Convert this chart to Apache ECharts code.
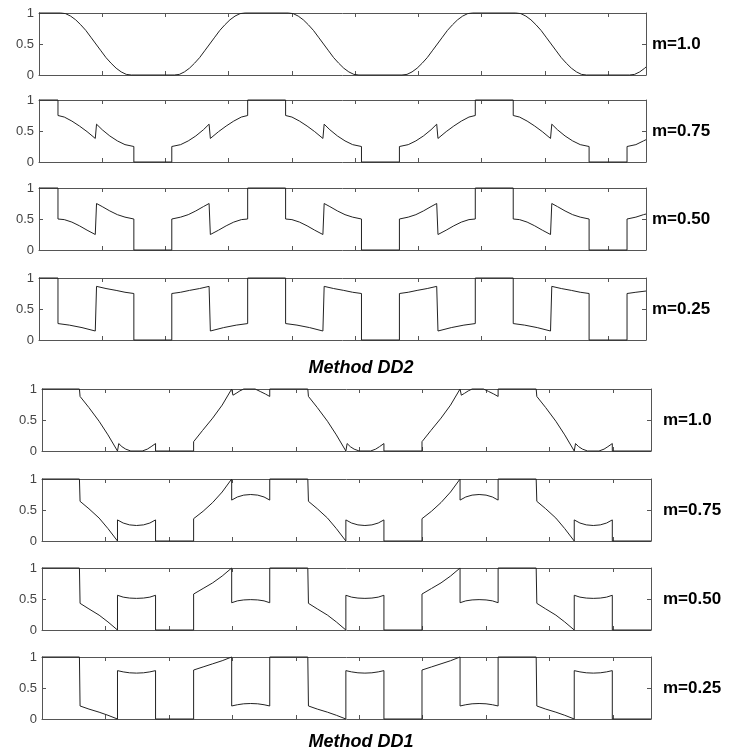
<!DOCTYPE html>
<html><head><meta charset="utf-8">
<script src="https://cdn.jsdelivr.net/npm/echarts@6/dist/echarts.min.js"></script>
<style>html,body{margin:0;padding:0;background:#fff}#c{width:731px;height:755px}</style>
</head><body><div id="c"></div>
<script>
// ---------- data ----------
const xRange = [0, 480];          // x extent (tick every 50)
const xTickStep = 50;
const yTickLabels = ['0', '0.5', '1'];
const panelLabels = ['m=1.0', 'm=0.75', 'm=0.50', 'm=0.25', 'm=1.0', 'm=0.75', 'm=0.50', 'm=0.25'];
const groupTitles = ['Method DD2', 'Method DD1'];

const dd2_m100 = [[0,1],[17,1],[21,0.99],[25,0.95],[29,0.89],[33,0.81],[37,0.72],[41,0.61],[45,0.5],[49,0.39],[53,0.28],[57,0.19],[61,0.11],[65,0.05],[69,0.01],[73,0],
[107,0],[111,0.01],[115,0.05],[119,0.11],[123,0.19],[127,0.28],[131,0.39],[135,0.5],[139,0.61],[143,0.72],[147,0.81],[151,0.89],[155,0.95],[159,0.99],[163,1],
[197,1],[201,0.99],[205,0.95],[209,0.89],[213,0.81],[217,0.72],[221,0.61],[225,0.5],[229,0.39],[233,0.28],[237,0.19],[241,0.11],[245,0.05],[249,0.01],[253,0],
[287,0],[291,0.01],[295,0.05],[299,0.11],[303,0.19],[307,0.28],[311,0.39],[315,0.5],[319,0.61],[323,0.72],[327,0.81],[331,0.89],[335,0.95],[339,0.99],[343,1],
[377,1],[381,0.99],[385,0.95],[389,0.89],[393,0.81],[397,0.72],[401,0.61],[405,0.5],[409,0.39],[413,0.28],[417,0.19],[421,0.11],[425,0.05],[429,0.01],[433,0],
[467,0],[471,0.01],[475,0.05],[479,0.11],[480,0.13]];

const dd2_m075 = [[0,1],[15,1],[15,0.75],[20,0.725],[26,0.66],[32,0.58],[38,0.49],[44.5,0.38],[45.5,0.61],[50,0.52],[56,0.42],[62,0.34],[68,0.28],[75,0.25],[75,0],
[105,0],[105,0.25],[112,0.28],[118,0.34],[124,0.42],[130,0.52],[134.5,0.61],[135.5,0.38],[142,0.49],[148,0.58],[154,0.66],[160,0.725],[165,0.75],[165,1],
[195,1],[195,0.75],[200,0.725],[206,0.66],[212,0.58],[218,0.49],[224.5,0.38],[225.5,0.61],[230,0.52],[236,0.42],[242,0.34],[248,0.28],[255,0.25],[255,0],
[285,0],[285,0.25],[292,0.28],[298,0.34],[304,0.42],[310,0.52],[314.5,0.61],[315.5,0.38],[322,0.49],[328,0.58],[334,0.66],[340,0.725],[345,0.75],[345,1],
[375,1],[375,0.75],[380,0.725],[386,0.66],[392,0.58],[398,0.49],[404.5,0.38],[405.5,0.61],[410,0.52],[416,0.42],[422,0.34],[428,0.28],[435,0.25],[435,0],
[465,0],[465,0.25],[472,0.28],[478,0.34],[480,0.36]];

const dd2_m050 = [[0,1],[15,1],[15,0.5],[20,0.49],[26,0.45],[32,0.39],[38,0.32],[44.5,0.25],[45.5,0.75],[50,0.7],[56,0.63],[62,0.57],[68,0.53],[75,0.5],[75,0],
[105,0],[105,0.5],[112,0.53],[118,0.57],[124,0.63],[130,0.7],[134.5,0.75],[135.5,0.25],[142,0.32],[148,0.39],[154,0.45],[160,0.49],[165,0.5],[165,1],
[195,1],[195,0.5],[200,0.49],[206,0.45],[212,0.39],[218,0.32],[224.5,0.25],[225.5,0.75],[230,0.7],[236,0.63],[242,0.57],[248,0.53],[255,0.5],[255,0],
[285,0],[285,0.5],[292,0.53],[298,0.57],[304,0.63],[310,0.7],[314.5,0.75],[315.5,0.25],[322,0.32],[328,0.39],[334,0.45],[340,0.49],[345,0.5],[345,1],
[375,1],[375,0.5],[380,0.49],[386,0.45],[392,0.39],[398,0.32],[404.5,0.25],[405.5,0.75],[410,0.7],[416,0.63],[422,0.57],[428,0.53],[435,0.5],[435,0],
[465,0],[465,0.5],[472,0.53],[478,0.57],[480,0.58]];

const dd2_m025 = [[0,1],[15,1],[15,0.265],[24,0.24],[34,0.2],[44.5,0.145],[45.5,0.865],[53,0.83],[61,0.8],[68,0.77],[75,0.75],[75,0],
[105,0],[105,0.75],[112,0.77],[119,0.8],[127,0.83],[134.5,0.865],[135.5,0.145],[146,0.2],[156,0.24],[165,0.265],[165,1],
[195,1],[195,0.265],[204,0.24],[214,0.2],[224.5,0.145],[225.5,0.865],[233,0.83],[241,0.8],[248,0.77],[255,0.75],[255,0],
[285,0],[285,0.75],[292,0.77],[299,0.8],[307,0.83],[314.5,0.865],[315.5,0.145],[326,0.2],[336,0.24],[345,0.265],[345,1],
[375,1],[375,0.265],[384,0.24],[394,0.2],[404.5,0.145],[405.5,0.865],[413,0.83],[421,0.8],[428,0.77],[435,0.75],[435,0],
[465,0],[465,0.75],[472,0.77],[480,0.79]];

const dd1_m100 = [[0,1],[29.5,1],[30,0.88],[37,0.7],[45,0.48],[52,0.26],[59.5,0],[60.5,0.12],[63,0.07],[66,0.03],[70,0],[79,0],[83,0.03],[86,0.07],[89.5,0.12],[89.5,0],
[119.5,0],[119.5,0.15],[126.5,0.33],[134.5,0.53],[142,0.74],[149.5,1],[150.5,0.9],[153,0.93],[156,0.97],[159,1],[168,1],[172,0.96],[176,0.92],[179.5,0.88],[179.5,1],
[209.5,1],[210,0.88],[217,0.7],[225,0.48],[232,0.26],[239.5,0],[240.5,0.12],[243,0.07],[246,0.03],[250,0],[259,0],[263,0.03],[266,0.07],[269.5,0.12],[269.5,0],
[299.5,0],[299.5,0.15],[306.5,0.33],[314.5,0.53],[322,0.74],[329.5,1],[330.5,0.9],[333,0.93],[336,0.97],[339,1],[348,1],[352,0.96],[356,0.92],[359.5,0.88],[359.5,1],
[389.5,1],[390,0.88],[397,0.7],[405,0.48],[412,0.26],[419.5,0],[420.5,0.12],[423,0.07],[426,0.03],[430,0],[439,0],[443,0.03],[446,0.07],[449.5,0.12],[449.5,0],[480,0]];

const dd1_m075 = [[0,1],[29.5,1],[30,0.64],[37,0.52],[45,0.37],[52,0.2],[59.5,0],[59.5,0.34],[64,0.29],[69,0.26],[74.5,0.25],[80,0.26],[85,0.29],[89.5,0.34],[89.5,0],
[119.5,0],[119.5,0.36],[127,0.48],[134.5,0.62],[142,0.79],[149.5,1],[149.5,0.66],[154,0.71],[159,0.74],[164.5,0.75],[170,0.74],[175,0.71],[179.5,0.66],[179.5,1],
[209.5,1],[210,0.64],[217,0.52],[225,0.37],[232,0.2],[239.5,0],[239.5,0.34],[244,0.29],[249,0.26],[254.5,0.25],[260,0.26],[265,0.29],[269.5,0.34],[269.5,0],
[299.5,0],[299.5,0.36],[307,0.48],[314.5,0.62],[322,0.79],[329.5,1],[329.5,0.66],[334,0.71],[339,0.74],[344.5,0.75],[350,0.74],[355,0.71],[359.5,0.66],[359.5,1],
[389.5,1],[390,0.64],[397,0.52],[405,0.37],[412,0.2],[419.5,0],[419.5,0.34],[424,0.29],[429,0.26],[434.5,0.25],[440,0.26],[445,0.29],[449.5,0.34],[449.5,0],[480,0]];

const dd1_m050 = [[0,1],[29.5,1],[30,0.43],[37,0.34],[45,0.24],[52,0.13],[59.5,0],[59.5,0.56],[64,0.53],[69,0.515],[74.5,0.51],[80,0.515],[85,0.53],[89.5,0.56],[89.5,0],
[119.5,0],[119.5,0.58],[127,0.67],[134.5,0.76],[142,0.87],[149.5,1],[149.5,0.44],[154,0.47],[159,0.485],[164.5,0.49],[170,0.485],[175,0.47],[179.5,0.44],[179.5,1],
[209.5,1],[210,0.43],[217,0.34],[225,0.24],[232,0.13],[239.5,0],[239.5,0.56],[244,0.53],[249,0.515],[254.5,0.51],[260,0.515],[265,0.53],[269.5,0.56],[269.5,0],
[299.5,0],[299.5,0.58],[307,0.67],[314.5,0.76],[322,0.87],[329.5,1],[329.5,0.44],[334,0.47],[339,0.485],[344.5,0.49],[350,0.485],[355,0.47],[359.5,0.44],[359.5,1],
[389.5,1],[390,0.43],[397,0.34],[405,0.24],[412,0.13],[419.5,0],[419.5,0.56],[424,0.53],[429,0.515],[434.5,0.51],[440,0.515],[445,0.53],[449.5,0.56],[449.5,0],[480,0]];

const dd1_m025 = [[0,1],[29.5,1],[30,0.21],[37,0.16],[45,0.11],[52,0.06],[59.5,0],[59.5,0.78],[64,0.76],[69,0.745],[74.5,0.74],[80,0.745],[85,0.76],[89.5,0.78],[89.5,0],
[119.5,0],[119.5,0.79],[127,0.84],[134.5,0.89],[142,0.94],[149.5,1],[149.5,0.21],[154,0.23],[159,0.245],[164.5,0.25],[170,0.245],[175,0.23],[179.5,0.21],[179.5,1],
[209.5,1],[210,0.21],[217,0.16],[225,0.11],[232,0.06],[239.5,0],[239.5,0.78],[244,0.76],[249,0.745],[254.5,0.74],[260,0.745],[265,0.76],[269.5,0.78],[269.5,0],
[299.5,0],[299.5,0.79],[307,0.84],[314.5,0.89],[322,0.94],[329.5,1],[329.5,0.21],[334,0.23],[339,0.245],[344.5,0.25],[350,0.245],[355,0.23],[359.5,0.21],[359.5,1],
[389.5,1],[390,0.21],[397,0.16],[405,0.11],[412,0.06],[419.5,0],[419.5,0.78],[424,0.76],[429,0.745],[434.5,0.74],[440,0.745],[445,0.76],[449.5,0.78],[449.5,0],[480,0]];

const panelData = [dd2_m100, dd2_m075, dd2_m050, dd2_m025, dd1_m100, dd1_m075, dd1_m050, dd1_m025];

// ---------- layout ----------
const boxes = [
  {left:39, top:13,  width:607, height:62},
  {left:39, top:100, width:607, height:62},
  {left:39, top:188, width:607, height:62},
  {left:39, top:278, width:607, height:62},
  {left:42, top:389, width:609, height:62},
  {left:42, top:479, width:609, height:62},
  {left:42, top:568, width:609, height:62},
  {left:42, top:657, width:609, height:62}
];
const labelX = [652, 652, 652, 652, 663, 663, 663, 663];
const titlePos = [[361, 368], [361, 742]];

const FONT = '"Liberation Sans", Arial, sans-serif';
const axisCol = '#555';
const lineCol = '#222';

const grid = [], xAxis = [], yAxis = [], series = [], graphic = [];
boxes.forEach((b, i) => {
  grid.push({left:b.left, top:b.top, width:b.width, height:b.height, outerBoundsMode:'none', containLabel:false});
  ['bottom', 'top'].forEach(pos => {
    xAxis.push({
      type:'value', gridIndex:i, position:pos, min:xRange[0], max:xRange[1], interval:xTickStep,
      axisLine:{show:true, onZero:false, lineStyle:{color:axisCol, width:1}},
      axisTick:{show:true, inside:true, length:4, lineStyle:{color:axisCol}},
      axisLabel:{show:false}, splitLine:{show:false}
    });
  });
  ['left', 'right'].forEach(pos => {
    yAxis.push({
      type:'value', gridIndex:i, position:pos, min:0, max:1, interval:0.5,
      axisLine:{show:true, onZero:false, lineStyle:{color:axisCol, width:1}},
      axisTick:{show:true, inside:true, length:4, lineStyle:{color:axisCol}},
      axisLabel:{show:pos === 'left', color:'#444', fontSize:13, fontFamily:FONT, margin:5,
        formatter: v => yTickLabels[Math.round(v * 2)]},
      splitLine:{show:false}
    });
  });
  series.push({
    type:'line', xAxisIndex:2 * i, yAxisIndex:2 * i, data:panelData[i],
    showSymbol:false, symbol:'none', lineStyle:{color:lineCol, width:1}, silent:true, clip:false
  });
  graphic.push({
    type:'text', x:labelX[i], y:b.top + b.height / 2,
    style:{text:panelLabels[i], font:'bold 17px ' + FONT, fill:'#000', textVerticalAlign:'middle', textAlign:'left'}
  });
});
groupTitles.forEach((t, k) => {
  graphic.push({
    type:'text', x:titlePos[k][0], y:titlePos[k][1],
    style:{text:t, font:'italic bold 18px ' + FONT, fill:'#000', textAlign:'center', textVerticalAlign:'middle'}
  });
});

const chart = echarts.init(document.getElementById('c'), null, {renderer:'canvas'});
chart.setOption({animation:false, backgroundColor:'#fff', grid, xAxis, yAxis, series, graphic});
</script></body></html>
